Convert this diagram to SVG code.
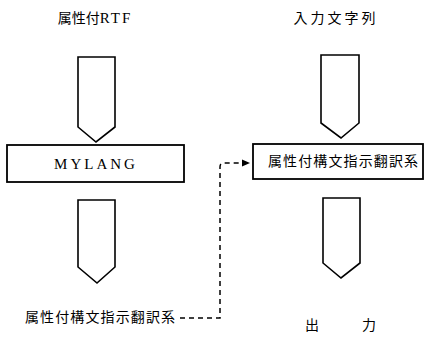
<svg xmlns="http://www.w3.org/2000/svg" width="426" height="337" viewBox="0 0 426 337">
<defs>
<style>
.arrow{fill:#fff;stroke:#000;stroke-width:1.6;stroke-linejoin:miter}
.box{fill:#fff;stroke:#000;stroke-width:1.8}
.cjk{font-family:"Noto Sans CJK JP","Noto Sans CJK SC",sans-serif;font-size:14px;fill:#000}
.lat{font-family:"Liberation Serif",serif;font-size:15px;fill:#000}
.dash{fill:none;stroke:#000;stroke-width:1.5;stroke-dasharray:5,4}
</style>
<marker id="ah" viewBox="0 0 8 8" refX="7" refY="4" markerWidth="8" markerHeight="8" markerUnits="userSpaceOnUse" orient="auto">
<path d="M0,0.5 L8,4 L0,7.5 Z" fill="#000"/>
</marker>
</defs>
<rect width="426" height="337" fill="#fff"/>
<g id="label-rtf">
<text x="95" y="23" text-anchor="middle"><tspan class="cjk" font-size="15">属性付</tspan><tspan class="lat" font-size="16" letter-spacing="2">RTF</tspan></text>
</g>
<g id="arrow-left-top">
<path class="arrow" d="M78,57 L115,57 L115,127 L96,142 L78,127 Z"/>
</g>
<g id="mylang">
<rect class="box" x="7" y="145" width="177" height="37"/>
<text class="lat" x="96" y="169" text-anchor="middle" letter-spacing="3">MYLANG</text>
</g>
<g id="arrow-left-bottom">
<path class="arrow" d="M78,200 L115,200 L115,267 L97,283 L78,267 Z"/>
</g>
<g id="label-bottom-left">
<text class="cjk" x="25" y="322" textLength="150" lengthAdjust="spacing">属性付構文指示翻訳系</text>
</g>
<g id="label-input">
<text class="cjk" x="336" y="23" text-anchor="middle" font-size="15" letter-spacing="3">入力文字列</text>
</g>
<g id="arrow-right-top">
<path class="arrow" d="M321,55 L359,55 L359,123 L341,138 L321,123 Z"/>
</g>
<g id="translator">
<rect class="box" x="253" y="144" width="170" height="35"/>
<text class="cjk" x="268" y="166" textLength="150" lengthAdjust="spacing">属性付構文指示翻訳系</text>
</g>
<g id="arrow-right-bottom">
<path class="arrow" d="M323,198 L360,198 L360,263 L341,278 L323,263 Z"/>
</g>
<g id="label-output">
<text class="cjk" y="330"><tspan x="305">出</tspan><tspan x="362">力</tspan></text>
</g>
<g id="connectors">
<path class="dash" d="M180,318 L220,318 L220,167 Q220,163 224,163 L249,163" marker-end="url(#ah)"/>
</g>
</svg>
